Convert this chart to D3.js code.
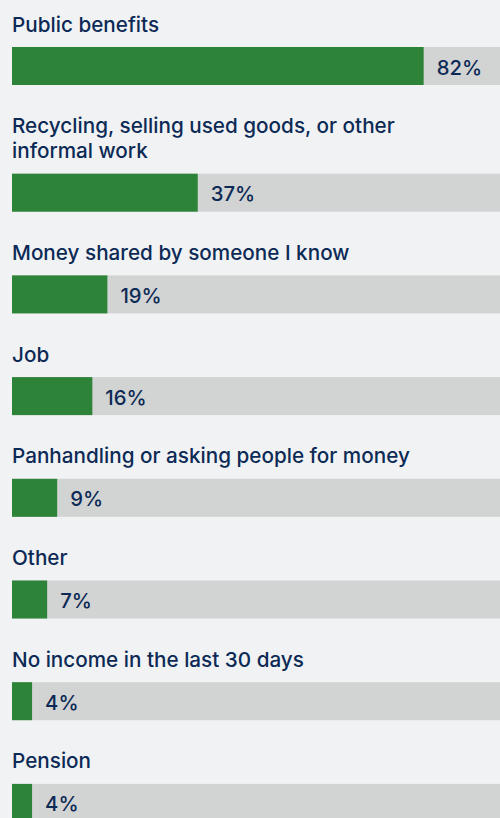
<!DOCTYPE html>
<html>
<head>
<meta charset="utf-8">
<script src="https://cdn.jsdelivr.net/npm/d3@7"></script>
<style>
  html, body { margin: 0; padding: 0; background: #f1f2f4; overflow: hidden; }
  text { font-family: Inter, "Liberation Sans", Arial, sans-serif; fill: #0c2a55; }
</style>
</head>
<body>
<div id="chart"></div>
<script>
// categories (one entry per label line)
var categories = [
    ["Public benefits"],
    ["Recycling, selling used goods, or other", "informal work"],
    ["Money shared by someone I know"],
    ["Job"],
    ["Panhandling or asking people for money"],
    ["Other"],
    ["No income in the last 30 days"],
    ["Pension"]
];
var values = [82, 37, 19, 16, 9, 7, 4, 4];
var valueLabels = ["82%", "37%", "19%", "16%", "9%", "7%", "4%", "4%"];

var width = 500, height = 818;
var barH = 38, lineH = 25, labelToBar = 15.5, barToLabel = 48.2;

var svg = d3.select("#chart").append("svg")
    .attr("width", width)
    .attr("height", height);

var x = d3.scaleLinear().domain([0, 100]).range([12, 514]);

// stack the groups: label lines, then bar
var rows = [];
var baseline = 31.5;
categories.forEach(function(lines, i){
    var lastBase = baseline + (lines.length - 1) * lineH;
    var top = lastBase + labelToBar;
    rows.push({ lines: lines, base: baseline, top: top, value: values[i], label: valueLabels[i] });
    baseline = top + barH + barToLabel;
});

var g = svg.selectAll(".row").data(rows).enter().append("g").attr("class", "row");

g.each(function(d){
    var t = d3.select(this).append("text")
        .attr("x", 12)
        .attr("y", d.base)
        .style("font-size", "20.7px")
        .style("font-weight", "500");
    d.lines.forEach(function(l, j){
        t.append("tspan").attr("x", 12).attr("y", d.base + j * lineH).text(l);
    });
});

g.append("rect")
    .attr("x", x(0))
    .attr("y", d => d.top)
    .attr("width", x(100) - x(0))
    .attr("height", barH)
    .attr("fill", "#d2d3d3");

g.append("rect")
    .attr("x", x(0))
    .attr("y", d => d.top)
    .attr("width", d => x(d.value) - x(0))
    .attr("height", barH)
    .attr("fill", "#2d8337");

g.append("text")
    .attr("x", d => x(d.value) + 13)
    .attr("y", d => d.top + 27.5)
    .style("font-size", "20.3px")
    .style("font-weight", "500")
    .text(d => d.label);
</script>
</body>
</html>
